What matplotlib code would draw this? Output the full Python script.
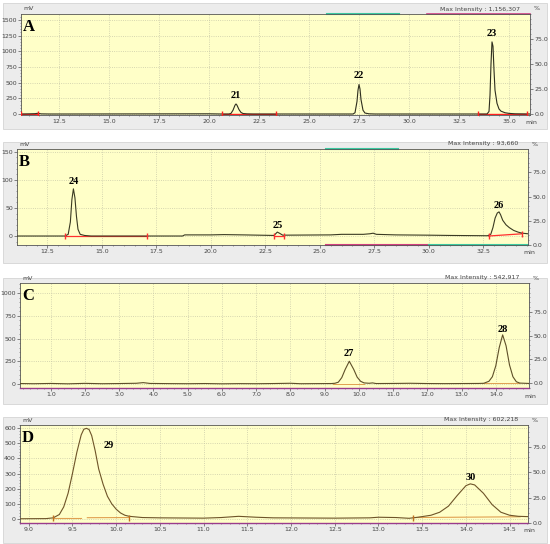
import matplotlib.pyplot as plt
from matplotlib.ticker import AutoMinorLocator
from matplotlib.patches import Rectangle

# Panel A trace (min, mV)
a_time = [10.6, 11.0, 11.3, 11.45, 11.6, 12.0, 13.0, 20.0, 20.6, 21.0, 21.1, 21.2, 21.3, 21.35, 21.4, 21.5, 21.6,
          21.7, 21.9, 22.2, 27.2, 27.3, 27.4, 27.45, 27.5, 27.55, 27.6, 27.7, 27.8, 28.0, 28.3, 33.9, 34.0, 34.05,
          34.1, 34.15, 34.2, 34.25, 34.3, 34.4, 34.5, 34.6, 34.8, 35.0, 35.3, 36.05]
a_mv = [0, 2, 5, 12, 2, 0, 0, 3, 0, 0, 10, 60, 140, 160, 140, 70, 25,
        8, 2, 0, 0, 20, 200, 380, 470, 400, 230, 60, 15, 3, 0, 0, 40, 300,
        800, 1150, 1080, 700, 380, 170, 80, 45, 20, 10, 3, 0]
a_peaks = ['21', '22', '23']
a_peak_x = [21.35, 27.5, 34.15]
a_peak_y = [300, 620, 1290]
a_base = [(10.6, 11.45), (20.65, 23.35), (33.45, 35.9)]

# Panel B trace
b_time = [11.1, 13.3, 13.45, 13.55, 13.62, 13.69, 13.76, 13.83, 13.9, 14.0, 14.2, 14.5, 18.7, 18.8, 20.0, 20.6,
          21.5, 22.9, 23.0, 23.05, 23.15, 23.3, 25.5, 26.0, 27.0, 27.3, 27.45, 27.6, 28.5, 30.0, 31.0, 32.7,
          32.85, 32.95, 33.05, 33.15, 33.23, 33.3, 33.4, 33.55, 33.7, 33.9, 34.1, 34.3, 34.56]
b_mv = [0, 0, 3, 25, 65, 84, 68, 35, 12, 3, 1, 0, 0, 2, 2, 2.5,
        2, 1, 5, 7, 5, 1.5, 2, 3, 3, 4, 5, 3, 2, 1.5, 1, 0.5,
        3, 15, 32, 41, 43, 38, 28, 20, 15, 10, 7, 5, 4]
b_peaks = ['24', '25', '26']
b_peak_x = [13.69, 23.05, 33.23]
b_peak_y = [98, 18, 55]
b_base = [(13.3, 17.05), (22.9, 23.35), (32.75, 34.3)]

# Panel C trace
c_time = [0.1, 0.5, 1.0, 1.5, 2.0, 2.5, 3.0, 3.5, 3.7, 3.9, 4.5, 5.0, 5.5, 6.0, 6.5, 7.0, 7.5, 8.0, 8.3, 8.7,
          9.2, 9.3, 9.4, 9.5, 9.6, 9.72, 9.85, 9.95, 10.05, 10.15, 10.3, 10.4, 10.5, 11.0, 11.5, 12.0, 12.5,
          13.0, 13.5, 13.65, 13.8, 13.9, 14.0, 14.1, 14.2, 14.3, 14.4, 14.5, 14.6, 14.7, 14.97]
c_mv = [5, 3, 6, 2, 7, 3, 5, 8, 15, 6, 4, 3, 5, 2, 4, 3, 5, 8, 3, 4,
        5, 8, 20, 70, 160, 250, 160, 75, 30, 12, 8, 12, 5, 6, 8, 5, 4,
        5, 6, 8, 30, 80, 200, 400, 540, 420, 210, 80, 25, 10, 6]
c_peaks = ['27', '28']
c_peak_x = [9.72, 14.2]
c_peak_y = [330, 600]

# Panel D trace
d_time = [8.9, 9.2, 9.28, 9.35, 9.4, 9.45, 9.5, 9.55, 9.6, 9.63, 9.66, 9.69, 9.72, 9.76, 9.8, 9.85, 9.9, 9.95,
          10.0, 10.05, 10.1, 10.15, 10.3, 10.5, 11.0, 11.2, 11.4, 11.6, 11.8, 12.5, 12.9, 13.0, 13.2, 13.35,
          13.45, 13.6, 13.7, 13.8, 13.9, 14.0, 14.05, 14.1, 14.2, 14.3, 14.4, 14.5, 14.6, 14.71]
d_mv = [2, 3, 8, 30, 80, 170, 300, 440, 555, 592, 598, 590, 550, 450, 330, 230, 150, 100,
        65, 40, 25, 18, 10, 8, 6, 10, 18, 12, 8, 6, 8, 12, 10, 5,
        12, 25, 45, 85, 155, 220, 232, 225, 170, 95, 45, 25, 18, 16]
d_peaks = ['29', '30']
d_peak_x = [9.91, 14.05]
d_peak_y = [487, 276]

fig = plt.figure(figsize=(5.5, 5.44), dpi=100)
W, H = 550.0, 544.0

# grey instrument panels behind each chromatogram
for y0, y1 in [(3, 129), (142, 263), (278, 404), (417, 543)]:
    fig.patches.append(Rectangle((3 / W, 1 - y1 / H), 544 / W, (y1 - y0) / H, transform=fig.transFigure,
                                 facecolor='#ececec', edgecolor='#d4d4d4', lw=0.6, zorder=-10))


def panel(px, letter, t, mv, xlim, ylim, rlim, xticks, yticks, peaks, pk_x, pk_y, maxint, color):
    left, top, right, bottom = px
    ax = fig.add_axes([left / W, 1 - bottom / H, (right - left) / W, (bottom - top) / H])
    ax.set_facecolor('#ffffc8')
    ax.plot(t, mv, color=color, lw=0.8, zorder=3)
    ax.set_xlim(xlim)
    ax.set_ylim(ylim)
    ax.set_xticks(xticks)
    ax.set_xticklabels(['%.1f' % v for v in xticks])
    ax.set_yticks(yticks)
    ax.xaxis.set_minor_locator(AutoMinorLocator(5))
    ax.yaxis.set_minor_locator(AutoMinorLocator(5))
    ax.tick_params(labelsize=4.5, labelcolor='#444444', length=2, width=0.5, pad=1, color='#555555')
    ax.tick_params(which='minor', length=1, width=0.4, color='#555555')
    ax.grid(True, color='#c9c9a8', ls=':', lw=0.6)
    for s in ax.spines.values():
        s.set_linewidth(0.6)
        s.set_color('#555555')
    ax.text(0.004, 0.95, letter, transform=ax.transAxes, fontsize=12, fontweight='bold',
            family='Liberation Serif', va='top', ha='left', zorder=5)
    for lab, x, y in zip(peaks, pk_x, pk_y):
        ax.text(x, y, lab, fontsize=7.5, fontweight='bold', family='Liberation Serif', ha='center', va='center')

    rax = ax.twinx()
    rax.set_ylim(rlim)
    rax.set_yticks([0, 25, 50, 75])
    rax.set_yticklabels(['0.0', '25.0', '50.0', '75.0'])
    rax.yaxis.set_minor_locator(AutoMinorLocator(5))
    rax.tick_params(labelsize=4.5, labelcolor='#444444', length=2, width=0.5, pad=1, color='#555555')
    rax.tick_params(which='minor', length=1, width=0.4, color='#555555')
    for s in rax.spines.values():
        s.set_visible(False)

    fig.text((left + 2) / W, 1 - (top - 5) / H, 'mV', fontsize=4.5, color='#444444', va='center')
    fig.text((right - 10) / W, 1 - (top - 5) / H, 'Max Intensity : ' + maxint, fontsize=4.5,
             color='#444444', va='center', ha='right')
    fig.text((right + 4) / W, 1 - (top - 5) / H, '%', fontsize=4.5, color='#444444', va='center')
    fig.text((right + 1) / W, 1 - (bottom + 8) / H, 'min', fontsize=4.5, color='#444444', va='center', ha='center')
    return ax


ax = panel((21, 14, 530, 115), 'A', a_time, a_mv, (10.6, 36.05), (-16, 1595), (-1, 100),
           [12.5, 15.0, 17.5, 20.0, 22.5, 25.0, 27.5, 30.0, 32.5, 35.0], [0, 250, 500, 750, 1000, 1250, 1500],
           a_peaks, a_peak_x, a_peak_y, '1,156,307', '#2e2e1e')
for x0, x1 in a_base:
    ax.plot([x0, x1], [0, 0], color='#ff2020', lw=1.0, zorder=2)
    ax.plot([x0, x1], [0, 0], ls='none', marker='|', ms=4, color='#ff2020', zorder=4)
ax.plot([25.9, 29.5], [1595, 1595], color='#3cc8a0', lw=1.5, clip_on=False)
ax.plot([30.9, 36.05], [1595, 1595], color='#d04080', lw=1.2, clip_on=False)

ax = panel((17, 149, 528, 245), 'B', b_time, b_mv, (11.1, 34.56), (-16, 155), (0, 99),
           [12.5, 15.0, 17.5, 20.0, 22.5, 25.0, 27.5, 30.0, 32.5], [0, 50, 100, 150],
           b_peaks, b_peak_x, b_peak_y, '93,660', '#3a3a22')
for (x0, x1), (y0, y1) in zip(b_base, [(0, 0), (0, 0), (0, 4)]):
    ax.plot([x0, x1], [y0, y1], color='#ff3030', lw=0.9, zorder=2)
    ax.plot([x0, x1], [y0, y1], ls='none', marker='|', ms=4, color='#ff3030', zorder=4)
ax.plot([25.3, 28.6], [155, 155], color='#3cc8a0', lw=1.5, clip_on=False)
ax.plot([25.3, 30.0], [-16, -16], color='#d04080', lw=1.5, clip_on=False)
ax.plot([30.0, 34.56], [-16, -16], color='#3cc8a0', lw=1.5, clip_on=False)

ax = panel((20, 283, 529, 388), 'C', c_time, c_mv, (0.1, 14.97), (-44, 1110), (-5, 105),
           [1.0, 2.0, 3.0, 4.0, 5.0, 6.0, 7.0, 8.0, 9.0, 10.0, 11.0, 12.0, 13.0, 14.0], [0, 250, 500, 750, 1000],
           c_peaks, c_peak_x, c_peak_y, '542,917', '#5e4f28')
ax.plot([9.25, 10.15], [4, 4], color='#e0a050', lw=0.7, zorder=2)
ax.plot([13.6, 14.7], [5, 6], color='#e0a050', lw=0.7, zorder=2)
ax.spines['bottom'].set_color('#9a3c8c')
ax.spines['bottom'].set_linewidth(1.0)

ax = panel((20, 425, 528, 523), 'D', d_time, d_mv, (8.9, 14.71), (-26, 620), (0, 97),
           [9.0, 9.5, 10.0, 10.5, 11.0, 11.5, 12.0, 12.5, 13.0, 13.5, 14.0, 14.5],
           [0, 100, 200, 300, 400, 500, 600],
           d_peaks, d_peak_x, d_peak_y, '602,218', '#6e5428')
ax.plot([9.28, 9.6], [8, 8], color='#e0a050', lw=0.8, zorder=2)
ax.plot([9.67, 10.15], [9, 10], color='#e0a050', lw=0.8, zorder=2)
ax.plot([13.4, 14.62], [10, 15], color='#e0a050', lw=0.8, zorder=2)
ax.plot([9.28, 10.15, 13.4], [8, 10, 10], ls='none', marker='|', ms=4, color='#c07020', zorder=4)
ax.spines['bottom'].set_color('#9a3c8c')
ax.spines['bottom'].set_linewidth(1.0)

fig.savefig('out.png', dpi=100)
